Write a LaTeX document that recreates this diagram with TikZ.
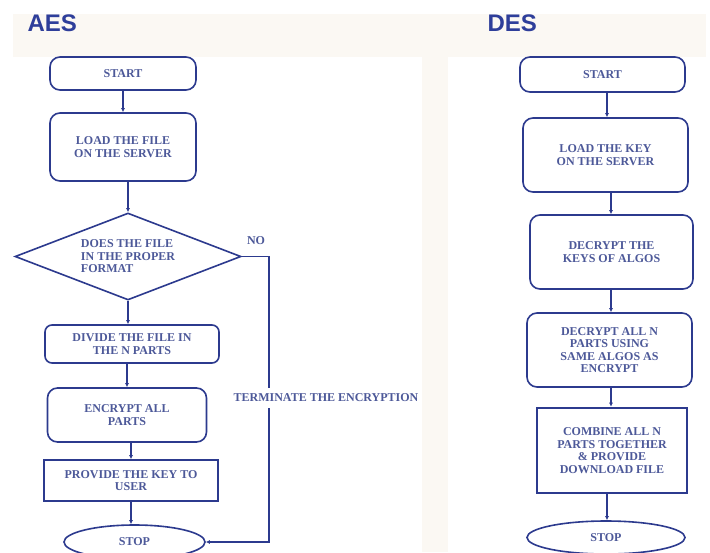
\documentclass[tikz,border=0pt]{standalone}
\usepackage{fontspec}
\setmainfont{Liberation Serif}
\newfontfamily\titlefont{Liberation Sans}
\usetikzlibrary{shapes.geometric,arrows.meta}
\definecolor{navy}{HTML}{2C3A8E}
\definecolor{boxtext}{HTML}{4D5999}
\definecolor{titleblue}{HTML}{2E3E9A}
\definecolor{cream}{HTML}{FBF8F3}
\tikzset{
  every node/.style={font=\fontsize{12}{12.5}\selectfont\bfseries, text=boxtext},
  flow/.style={draw=navy, line width=1.6pt, align=center, inner sep=0pt},
  roundbox/.style={flow, rectangle, rounded corners=10pt},
  squarebox/.style={flow, rectangle},
  decision/.style={flow, diamond, aspect=2.6, align=left},
  terminal/.style={flow, ellipse},
  link/.style={draw=navy, line width=1.6pt, -{Latex[length=4pt,width=4pt]}},
  heading/.style={font=\titlefont\fontsize{24}{26}\selectfont\bfseries, text=titleblue, anchor=base west}
}
\begin{document}
\begin{tikzpicture}[x=1pt,y=-1pt]
  \useasboundingbox (0,0) rectangle (710,552);
  % page background with the two white panels
  \fill[cream] (13,14) rectangle (706,552);
  \fill[white] (13,57) rectangle (422,552);
  \fill[white] (448,57) rectangle (706,552);

  \node[heading] (aestitle) at (24,31) {AES};
  \node[heading] (destitle) at (484,31) {DES};

  % AES flow
  \node[roundbox, minimum width=146pt, minimum height=33pt] (astart) at (123,73.5) {START};
  \node[roundbox, minimum width=146pt, minimum height=68pt] (aload) at (123,147) {LOAD THE FILE\\ON THE SERVER};
  \node[decision, minimum width=226pt, minimum height=87pt] (adec) at (128,256.5) {DOES THE FILE\\IN THE PROPER\\FORMAT};
  \node[roundbox, rounded corners=7pt, minimum width=174pt, minimum height=38pt] (adiv) at (132,344) {DIVIDE THE FILE IN\\THE N PARTS};
  \node[roundbox, minimum width=159pt, minimum height=54pt] (aenc) at (127,415) {ENCRYPT ALL\\PARTS};
  \node[squarebox, minimum width=174pt, minimum height=41pt] (akey) at (131,480.5) {PROVIDE THE KEY TO\\USER};
  \node[terminal, minimum width=141pt, minimum height=34pt] (astop) at (134.5,542) {STOP};

  \draw[link] (astart.south) -- (astart.south |- aload.north);
  \draw[link] (aload.south -| adec.north) -- (adec.north);
  \draw[link] (adec.south) -- (adec.south |- adiv.north);
  \draw[link] (adiv.south -| aenc.north) -- (aenc.north);
  \draw[link] (aenc.south -| akey.north) -- (akey.north);
  \draw[link] (akey.south) -- (akey.south |- astop.north);

  \coordinate (noturn) at (269,0);
  \draw[link] (adec.east) -- (adec.east -| noturn) -- (noturn |- astop.east) -- (astop.east);
  \node (nolabel) at (256,241) {NO};
  \node[fill=white, inner xsep=2pt, inner ysep=6pt] (terminate) at (326,398) {TERMINATE THE ENCRYPTION};

  % DES flow
  \node[roundbox, minimum width=165pt, minimum height=35pt] (dstart) at (602.5,74.5) {START};
  \node[roundbox, minimum width=165pt, minimum height=74pt] (dload) at (605.5,155) {LOAD THE KEY\\ON THE SERVER};
  \node[roundbox, minimum width=163pt, minimum height=74pt] (dkeys) at (611.5,252) {DECRYPT THE\\KEYS OF ALGOS};
  \node[roundbox, minimum width=165pt, minimum height=74pt] (dparts) at (609.5,350) {DECRYPT ALL N\\PARTS USING\\SAME ALGOS AS\\ENCRYPT};
  \node[squarebox, line width=2.6pt, minimum width=150pt, minimum height=85pt] (dcomb) at (612,450.5) {COMBINE ALL N\\PARTS TOGETHER\\\& PROVIDE\\DOWNLOAD FILE};
  \node[terminal, minimum width=158pt, minimum height=33pt] (dstop) at (606,537.5) {STOP};

  \draw[link] (dstart.south -| 607,0) -- (607,0 |- dload.north);
  \draw[link] (dload.south -| 611,0) -- (611,0 |- dkeys.north);
  \draw[link] (dkeys.south -| 611,0) -- (611,0 |- dparts.north);
  \draw[link] (dparts.south -| 611,0) -- (611,0 |- dcomb.north);
  \draw[link] (dcomb.south -| 607,0) -- (607,0 |- dstop.north);
\end{tikzpicture}
\end{document}
